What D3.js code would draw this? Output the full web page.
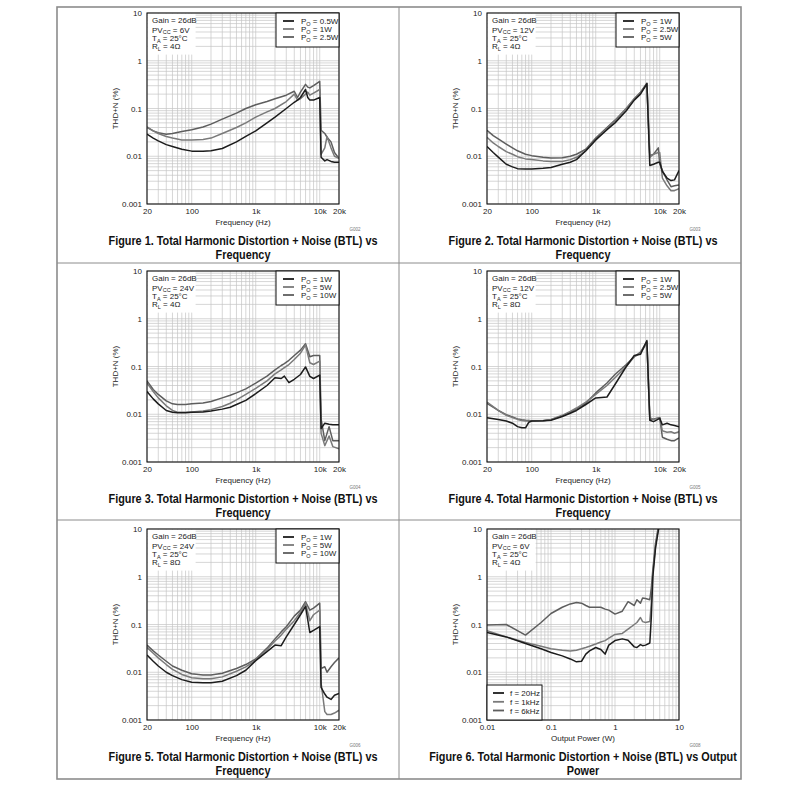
<!DOCTYPE html>
<html><head><meta charset="utf-8">
<script src="https://cdn.jsdelivr.net/npm/d3@7"></script>
<style>body{margin:0;background:#fff} text{font-family:"Liberation Sans",Arial,sans-serif}</style>
</head><body><svg id="c" width="800" height="800"></svg>
<script>
// ---------- DATA ----------
const yTickValues = [0.001, 0.01, 0.1, 1, 10];
const yTickLabels = ["0.001", "0.01", "0.1", "1", "10"];
const freqTickValues = [20, 100, 1000, 10000, 20000];
const freqTickLabels = ["20", "100", "1k", "10k", "20k"];
const powerTickValues = [0.01, 0.1, 1, 10];
const powerTickLabels = ["0.01", "0.1", "1", "10"];

// Figure 1
const p1Freq = [20,25,30,40,50,70,100,150,200,300,500,700,1000,1500,2000,3000,4000,4500,5000,6000,6500,7000,8000,10000,10500,12000,13000,15000,17000,20000];
const p1Po05W = [0.029,0.024,0.021,0.0175,0.016,0.014,0.0128,0.0128,0.013,0.0145,0.02,0.026,0.034,0.05,0.066,0.1,0.135,0.15,0.17,0.25,0.17,0.15,0.15,0.17,0.0095,0.008,0.0085,0.0078,0.0075,0.0075];
const p1Po1W = [0.041,0.034,0.03,0.026,0.024,0.022,0.022,0.0225,0.024,0.03,0.04,0.05,0.066,0.085,0.1,0.14,0.2,0.15,0.16,0.2,0.22,0.19,0.21,0.25,0.011,0.015,0.026,0.015,0.01,0.009];
const p1Po25W = [0.04,0.034,0.031,0.029,0.03,0.033,0.036,0.041,0.047,0.06,0.08,0.1,0.12,0.14,0.16,0.19,0.23,0.17,0.22,0.32,0.28,0.27,0.3,0.37,0.035,0.03,0.025,0.02,0.012,0.009];

// Figure 2
const p2Freq = [20,25,30,40,50,60,80,100,150,200,300,400,500,700,1000,1500,2000,3000,4000,5000,6300,7000,8000,9500,10000,11000,13000,15000,17000,20000];
const p2Po1W = [0.016,0.012,0.0096,0.0068,0.006,0.0055,0.0054,0.0054,0.0056,0.0058,0.0068,0.0075,0.0085,0.013,0.022,0.036,0.05,0.09,0.15,0.2,0.33,0.0064,0.0068,0.0075,0.0075,0.0048,0.0035,0.0031,0.0032,0.005];
const p2Po25W = [0.025,0.019,0.016,0.0125,0.011,0.0098,0.0088,0.0085,0.008,0.0078,0.0078,0.0085,0.0095,0.013,0.022,0.038,0.055,0.1,0.16,0.21,0.33,0.0095,0.011,0.012,0.012,0.0035,0.0024,0.0019,0.0019,0.0021];
const p2Po5W = [0.035,0.027,0.023,0.018,0.015,0.013,0.011,0.0103,0.0095,0.0092,0.0093,0.01,0.011,0.014,0.024,0.04,0.057,0.1,0.16,0.22,0.34,0.0103,0.011,0.015,0.007,0.005,0.0032,0.0023,0.0024,0.0025];

// Figure 3
const p3Freq = [20,25,30,40,50,60,80,100,150,200,300,400,500,700,1000,1500,2000,2500,2800,3300,4000,5000,6000,7000,8000,10000,10500,12000,14000,16000,20000];
const p3Po1W = [0.03,0.021,0.0165,0.012,0.011,0.0108,0.0108,0.011,0.0112,0.0117,0.0128,0.014,0.016,0.0195,0.027,0.04,0.058,0.056,0.063,0.046,0.054,0.068,0.098,0.062,0.056,0.066,0.005,0.0065,0.0062,0.006,0.006];
const p3Po5W = [0.045,0.03,0.022,0.015,0.012,0.011,0.011,0.0112,0.0117,0.0125,0.0145,0.017,0.02,0.026,0.035,0.05,0.07,0.085,0.095,0.11,0.14,0.19,0.28,0.12,0.11,0.13,0.004,0.0022,0.0035,0.0021,0.0019];
const p3Po10W = [0.05,0.033,0.026,0.019,0.0165,0.016,0.016,0.0165,0.0172,0.0185,0.022,0.025,0.028,0.034,0.045,0.063,0.085,0.105,0.115,0.135,0.17,0.22,0.3,0.16,0.17,0.17,0.008,0.0028,0.0055,0.0028,0.0028];

// Figure 4
const p4Freq = [20,30,40,50,60,70,80,90,100,150,200,300,400,500,700,1000,1500,2000,3000,4000,5000,6300,7000,8000,10000,11000,13000,15000,17000,20000];
const p4Po1W = [0.0084,0.0078,0.0072,0.0065,0.0055,0.0052,0.0052,0.0068,0.0072,0.0073,0.0075,0.009,0.0105,0.012,0.016,0.022,0.023,0.042,0.1,0.17,0.18,0.35,0.0075,0.007,0.0082,0.006,0.0065,0.006,0.0058,0.0055];
const p4Po25W = [0.018,0.012,0.0095,0.0085,0.0078,0.0074,0.0072,0.0072,0.0072,0.0073,0.0078,0.0095,0.0115,0.0135,0.018,0.026,0.04,0.058,0.1,0.16,0.19,0.31,0.0085,0.0078,0.0085,0.0045,0.0042,0.0043,0.004,0.0043];
const p4Po5W = [0.017,0.012,0.0098,0.0088,0.008,0.0077,0.0075,0.0074,0.0072,0.0073,0.0077,0.0092,0.011,0.013,0.017,0.028,0.045,0.068,0.11,0.16,0.2,0.33,0.0078,0.008,0.0085,0.0033,0.003,0.0028,0.0028,0.0032];

// Figure 5
const p5Freq = [20,25,30,40,50,70,100,150,200,300,500,700,1000,1500,2000,2500,3000,4000,5000,6000,7000,8000,10000,10500,12000,13000,15000,17000,20000];
const p5Po1W = [0.023,0.017,0.0135,0.01,0.0085,0.007,0.0062,0.006,0.006,0.0065,0.0085,0.011,0.0175,0.027,0.037,0.036,0.055,0.1,0.16,0.24,0.068,0.075,0.09,0.0048,0.0035,0.003,0.0027,0.0033,0.0036];
const p5Po5W = [0.033,0.025,0.02,0.0145,0.0115,0.009,0.0077,0.0073,0.0073,0.008,0.0105,0.013,0.018,0.03,0.045,0.06,0.08,0.12,0.18,0.28,0.12,0.16,0.2,0.006,0.0015,0.0013,0.0013,0.0014,0.0016];
const p5Po10W = [0.037,0.028,0.023,0.017,0.0135,0.011,0.0093,0.0088,0.0088,0.0095,0.012,0.0145,0.019,0.032,0.05,0.07,0.09,0.15,0.2,0.3,0.2,0.22,0.28,0.012,0.013,0.01,0.013,0.016,0.02];

// Figure 6
const p6Power = [0.01,0.02,0.04,0.07,0.1,0.15,0.2,0.25,0.3,0.35,0.4,0.5,0.6,0.7,0.8,1,1.3,1.6,2,2.2,2.5,2.7,3,3.5,3.7,3.9,4.3,4.8,5];
const p6F20Hz = [0.068,0.055,0.04,0.031,0.026,0.022,0.019,0.0165,0.017,0.024,0.028,0.033,0.03,0.024,0.037,0.046,0.05,0.047,0.034,0.033,0.038,0.036,0.037,0.041,0.15,1.0,4,10,12];
const p6F1kHz = [0.074,0.055,0.042,0.035,0.031,0.029,0.028,0.029,0.031,0.033,0.035,0.039,0.043,0.046,0.052,0.062,0.065,0.08,0.1,0.11,0.14,0.115,0.11,0.115,0.3,1.2,4.5,11,12];
const p6F6kHz = [0.098,0.1,0.06,0.11,0.17,0.23,0.27,0.29,0.28,0.25,0.23,0.23,0.23,0.21,0.2,0.165,0.19,0.3,0.25,0.33,0.28,0.36,0.35,0.33,0.6,1.4,5,12,14];

const seriesColors = ["#1c1c1c", "#7a7a7a", "#5e5e5e"];

// ---------- LAYOUT ----------
const svg = d3.select("#c");
const colX = [147, 487], rowY = [13, 271, 529];
const PW = 192, PH = 191;

const panels = [
  {col:0,row:0,x:p1Freq,ys:[p1Po05W,p1Po1W,p1Po25W],leg:["0.5W","1W","2.5W"],pv:"6V",rl:"4Ω",code:"G002",cap:["Figure 1. Total Harmonic Distortion + Noise (BTL) vs","Frequency"]},
  {col:1,row:0,x:p2Freq,ys:[p2Po1W,p2Po25W,p2Po5W],leg:["1W","2.5W","5W"],pv:"12V",rl:"4Ω",code:"G003",cap:["Figure 2. Total Harmonic Distortion + Noise (BTL) vs","Frequency"]},
  {col:0,row:1,x:p3Freq,ys:[p3Po1W,p3Po5W,p3Po10W],leg:["1W","5W","10W"],pv:"24V",rl:"4Ω",code:"G004",cap:["Figure 3. Total Harmonic Distortion + Noise (BTL) vs","Frequency"]},
  {col:1,row:1,x:p4Freq,ys:[p4Po1W,p4Po25W,p4Po5W],leg:["1W","2.5W","5W"],pv:"12V",rl:"8Ω",code:"G005",cap:["Figure 4. Total Harmonic Distortion + Noise (BTL) vs","Frequency"]},
  {col:0,row:2,x:p5Freq,ys:[p5Po1W,p5Po5W,p5Po10W],leg:["1W","5W","10W"],pv:"24V",rl:"8Ω",code:"G006",cap:["Figure 5. Total Harmonic Distortion + Noise (BTL) vs","Frequency"]},
  {col:1,row:2,x:p6Power,ys:[p6F20Hz,p6F1kHz,p6F6kHz],leg:["20Hz","1kHz","6kHz"],pv:"6V",rl:"4Ω",code:"G008",power:true,cap:["Figure 6. Total Harmonic Distortion + Noise (BTL) vs Output","Power"]}
];

// frame
const frame = svg.append("g").attr("fill","none").attr("stroke","#8c8c8c");
frame.append("rect").attr("x",57).attr("y",7).attr("width",684).attr("height",772).attr("stroke-width",1.6);
frame.append("line").attr("x1",399).attr("x2",399).attr("y1",7).attr("y2",779).attr("stroke-width",1);
[263,520].forEach(yy=>frame.append("line").attr("x1",57).attr("x2",741).attr("y1",yy).attr("y2",yy).attr("stroke-width",1));

function gridVals(lo, hi){
  const out=[];
  for(let d=Math.pow(10,Math.floor(Math.log10(lo)+1e-9)); d<hi*1.0001; d*=10){
    for(let m=1;m<=9;m++){const v=+(m*d).toPrecision(6); if(v>=lo*0.9999 && v<=hi*1.0001) out.push(v);}
  }
  return out;
}

let capScale = null;

panels.forEach((p,i)=>{
  const L = colX[p.col], T = rowY[p.row];
  const g = svg.append("g");
  const xDom = p.power ? [0.01,10] : [20,20000];
  const x = d3.scaleLog().domain(xDom).range([L, L+PW]);
  const y = d3.scaleLog().domain([0.001,10]).range([T+PH, T]);

  // grid
  const gg = g.append("g").attr("stroke","#c4c4c4").attr("stroke-width",0.7);
  gridVals(xDom[0], xDom[1]).forEach(v=>gg.append("line").attr("x1",x(v)).attr("x2",x(v)).attr("y1",T).attr("y2",T+PH));
  gridVals(0.001,10).forEach(v=>gg.append("line").attr("y1",y(v)).attr("y2",y(v)).attr("x1",L).attr("x2",L+PW));

  // info box background
  g.append("rect").attr("x",L+0.6).attr("y",T+0.6).attr("width",48).attr("height",41).attr("fill","#fff");

  // curves
  const cid = "clip"+i;
  svg.append("clipPath").attr("id",cid).append("rect").attr("x",L).attr("y",T).attr("width",PW).attr("height",PH);
  const line = d3.line().x(d=>x(d[0])).y(d=>y(d[1]));
  const cg = g.append("g").attr("clip-path",`url(#${cid})`);
  for(let s=p.ys.length-1;s>=0;s--){
    const pts = p.x.map((xv,k)=>[xv,p.ys[s][k]]);
    cg.append("path").datum(pts).attr("d",line).attr("fill","none")
      .attr("stroke",seriesColors[s]).attr("stroke-width",1.5).attr("stroke-linejoin","round");
  }

  // border
  g.append("rect").attr("x",L).attr("y",T).attr("width",PW).attr("height",PH).attr("fill","none").attr("stroke","#111").attr("stroke-width",1.1);

  // axes
  const ax = g.append("g").attr("transform",`translate(0,${T+PH})`)
    .call(d3.axisBottom(x).tickValues(p.power?powerTickValues:freqTickValues)
      .tickFormat((d,k)=>(p.power?powerTickLabels:freqTickLabels)[k]).tickSize(0).tickPadding(4));
  const ay = g.append("g").attr("transform",`translate(${L},0)`)
    .call(d3.axisLeft(y).tickValues(yTickValues).tickFormat((d,k)=>yTickLabels[k]).tickSize(0).tickPadding(5));
  [ax,ay].forEach(a=>{a.select(".domain").remove(); a.selectAll("text").attr("font-size",8).attr("fill","#222").attr("font-family","Liberation Sans, Arial, sans-serif");});

  g.append("text").attr("x",L+PW/2).attr("y",T+PH+21).attr("text-anchor","middle").attr("font-size",8).attr("fill","#222")
    .text(p.power?"Output Power (W)":"Frequency (Hz)");
  g.append("text").attr("transform",`translate(${L-29},${T+PH/2}) rotate(-90)`).attr("text-anchor","middle").attr("font-size",8).attr("fill","#222")
    .text("THD+N (%)");
  g.append("text").attr("x",L+PW+16).attr("y",T+PH+27).attr("text-anchor","middle").attr("font-size",4.5).attr("fill","#777").text(p.code);

  // info text
  const info = [["Gain = 26dB",null,""],["PV","CC"," = "+p.pv],["T","A"," = 25°C"],["R","L"," = "+p.rl]];
  const ib = [10,19.5,27.8,36.2];
  info.forEach((r,k)=>{
    const t = g.append("text").attr("x",L+5).attr("y",T+ib[k]).attr("font-size",8).attr("fill","#222");
    t.append("tspan").text(r[0]);
    if(r[1]){ t.append("tspan").attr("font-size",5.5).attr("dy",1.8).text(r[1]); t.append("tspan").attr("dy",-1.8).text(r[2]); }
  });

  // legend
  let bx, by, bw, bh, rows;
  if(!p.power){ bw=63; bh=34; bx=L+PW-bw; by=T; rows=[8,16,24]; }
  else { bw=55; bh=35; bx=L; by=T+PH-bh; rows=[8,16.8,25.5]; }
  g.append("rect").attr("x",bx).attr("y",by).attr("width",bw).attr("height",bh).attr("fill","#fff").attr("stroke","#111").attr("stroke-width",1);
  const lx0 = p.power?6:7, lx1 = p.power?17:18, tx = p.power?23:25;
  p.leg.forEach((lab,k)=>{
    const cy = by+rows[k];
    g.append("line").attr("x1",bx+lx0).attr("x2",bx+lx1).attr("y1",cy).attr("y2",cy).attr("stroke",seriesColors[k]).attr("stroke-width",1.8);
    const t = g.append("text").attr("x",bx+tx).attr("y",cy+3).attr("font-size",8).attr("fill","#222");
    if(p.power){ t.text("f = "+lab); }
    else { t.append("tspan").text("P"); t.append("tspan").attr("font-size",5.5).attr("dy",1.8).text("O"); t.append("tspan").attr("dy",-1.8).text(" = "+lab); }
  });

  // caption
  p.cap.forEach((c,k)=>{
    const t = g.append("text").attr("x",L+PW/2).attr("y",T+PH+41+k*13.5).attr("text-anchor","middle")
      .attr("font-size",12).attr("font-weight","bold").attr("fill","#111").text(c);
    const nat = t.node().getComputedTextLength();
    if(capScale===null) capScale = 269/nat;
    t.attr("textLength",nat*capScale).attr("lengthAdjust","spacingAndGlyphs");
  });
});
</script></body></html>
